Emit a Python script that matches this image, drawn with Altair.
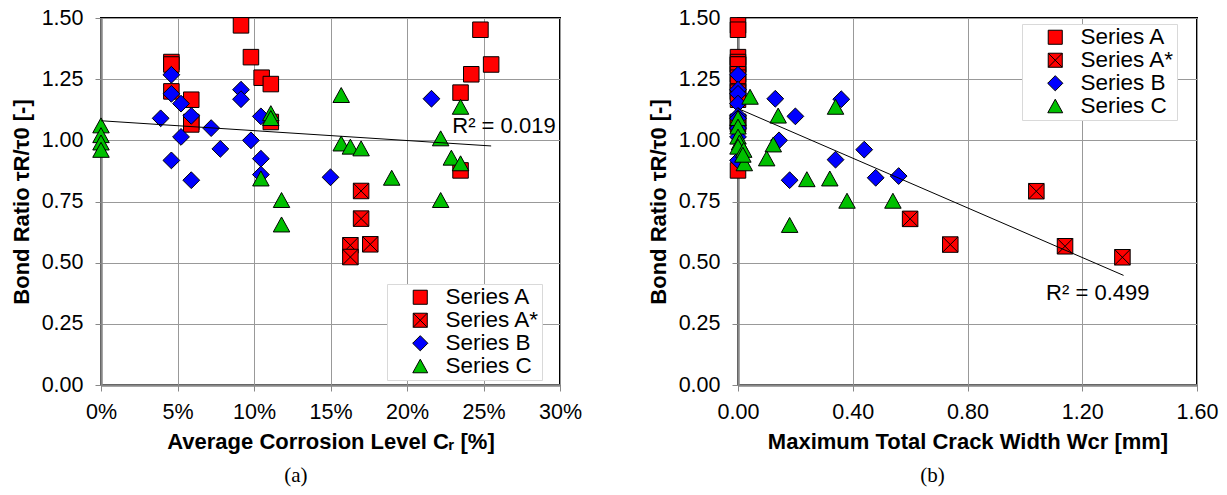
import altair as alt
import pandas as pd

series_names = ["Series A", "Series A*", "Series B", "Series C"]
series_colors = ["#FF0000", "#FF0000", "#0000FF", "#00C000"]

# ---------- Panel (a): average corrosion level [%] ----------
a_A_x = [9.15, 4.6, 4.6, 9.8, 10.5, 11.1, 4.6, 5.9, 5.9, 5.9, 11.1, 24.8, 25.5, 24.2, 23.5, 23.5]
a_A_y = [1.47, 1.32, 1.31, 1.34, 1.256, 1.23, 1.20, 1.166, 1.075, 1.065, 1.075, 1.452, 1.31, 1.27, 1.195, 0.877]
a_As_x = [17.0, 17.0, 16.3, 16.3, 17.6]
a_As_y = [0.793, 0.68, 0.571, 0.523, 0.575]
a_B_x = [4.6, 4.6, 5.23, 3.9, 5.9, 7.2, 5.23, 4.6, 5.9, 7.8, 9.15, 9.15, 9.8, 10.45, 10.45, 10.45, 15.0, 21.6]
a_B_y = [1.268, 1.19, 1.15, 1.09, 1.10, 1.05, 1.014, 0.918, 0.837, 0.965, 1.207, 1.168, 1.0, 1.098, 0.925, 0.86, 0.849, 1.17]
a_C_x = [0, 0, 0, 0, 11.1, 11.1, 15.7, 15.7, 16.3, 17.0, 10.45, 11.8, 11.8, 19.0, 23.5, 22.2, 22.9, 23.5, 22.2]
a_C_y = [1.06, 1.02, 0.99, 0.96, 1.11, 1.09, 1.184, 0.986, 0.973, 0.966, 0.843, 0.755, 0.655, 0.846, 1.136, 1.007, 0.928, 0.905, 0.755]
a_trend_x = [0, 25.5]
a_trend_y = [1.08, 0.977]
a_r2_label = "R² = 0.019"
a_r2_x = [22.96]
a_r2_y = [1.059]
a_ticks = [0, 5, 10, 15, 20, 25, 30]

# ---------- Panel (b): maximum total crack width [mm] ----------
b_A_x = [0] * 16
b_A_y = [1.47, 1.452, 1.34, 1.32, 1.31, 1.31, 1.27, 1.256, 1.23, 1.20, 1.195, 1.166, 1.075, 1.075, 1.065, 0.877]
b_As_x = [1.04, 0.60, 0.74, 1.14, 1.34]
b_As_y = [0.792, 0.679, 0.574, 0.567, 0.522]
b_B_x = [0, 0, 0, 0, 0, 0, 0, 0, 0, 0.13, 0.36, 0.20, 0.143, 0.44, 0.34, 0.48, 0.18, 0.56]
b_B_y = [1.268, 1.207, 1.19, 1.15, 1.10, 1.09, 1.05, 1.014, 0.918, 1.17, 1.168, 1.098, 1.0, 0.962, 0.921, 0.847, 0.837, 0.854]
b_C_x = [0, 0, 0, 0.005, 0, 0.02, 0.022, 0.017, 0.042, 0.14, 0.34, 0.123, 0.10, 0.24, 0.32, 0.38, 0.18, 0.54]
b_C_y = [1.09, 1.055, 1.014, 0.99, 0.973, 0.96, 0.905, 0.94, 1.177, 1.10, 1.136, 0.982, 0.925, 0.84, 0.843, 0.752, 0.653, 0.752]
b_trend_x = [0, 1.344]
b_trend_y = [1.13, 0.448]
b_r2_label = "R² = 0.499"
b_r2_x = [1.074]
b_r2_y = [0.376]
b_ticks = [0, 0.4, 0.8, 1.2, 1.6]

y_ticks = [0, 0.25, 0.5, 0.75, 1.0, 1.25, 1.5]

# marker shapes (unit paths)
sq = "M-0.97,-0.97H0.97V0.97H-0.97Z"
sqx = sq + "M-0.97,-0.97L0.97,0.97M0.97,-0.97L-0.97,0.97"
dia = "M0,-1.05L1.05,0L0,1.05L-1.05,0Z"
tri = "M0,-0.97L1.03,0.9L-1.03,0.9Z"
series_shapes = [sq, sqx, dia, tri]

FONT = "Liberation Sans"
FS = 21.5


def make_df(groups):
    rows = []
    for name, xs, ys in groups:
        for xv, yv in zip(xs, ys):
            rows.append({"series": name, "x": xv, "y": yv})
    return pd.DataFrame(rows)


def panel(df, tx, ty, r2_text, r2x, r2y, xdomain, xticks, xlabel_expr, xtitle,
          legend_x, legend_y, caption):
    legend = alt.Legend(
        title=None, orient="none", legendX=legend_x, legendY=legend_y,
        fillColor="white", strokeColor="#d9d9d9", padding=2, rowPadding=-2,
        symbolOffset=20, labelOffset=14, labelFont=FONT, labelFontSize=22.5,
        labelColor="black", symbolSize=210, symbolStrokeColor="black",
        symbolStrokeWidth=1,
    )
    xenc = alt.X(
        "x:Q",
        scale=alt.Scale(domain=xdomain, nice=False, zero=False),
        axis=alt.Axis(values=xticks, labelExpr=xlabel_expr, title=xtitle),
    )
    yenc = alt.Y(
        "y:Q",
        scale=alt.Scale(domain=[0, 1.5], nice=False),
        axis=alt.Axis(values=y_ticks, format=".2f", title="Bond Ratio τR/τ0 [-]"),
    )
    points = alt.Chart(df).mark_point(
        filled=True, stroke="black", strokeWidth=1, size=256, opacity=1
    ).encode(
        x=xenc,
        y=yenc,
        color=alt.Color("series:N", scale=alt.Scale(domain=series_names, range=series_colors), legend=legend),
        shape=alt.Shape("series:N", scale=alt.Scale(domain=series_names, range=series_shapes), legend=legend),
    )
    trend = alt.Chart(pd.DataFrame({"x": tx, "y": ty})).mark_line(
        color="black", strokeWidth=1
    ).encode(x="x:Q", y="y:Q")
    r2 = alt.Chart(pd.DataFrame({"x": r2x, "y": r2y, "t": [r2_text]})).mark_text(
        align="left", baseline="middle", font=FONT, fontSize=22, color="black"
    ).encode(x="x:Q", y="y:Q", text="t:N")
    return alt.layer(points, trend, r2).properties(
        width=459, height=367,
        title=alt.TitleParams(
            caption, orient="bottom", anchor="middle", frame="bounds",
            font="Liberation Serif", fontSize=21, fontWeight="normal",
            color="black", offset=12,
        ),
    )


df_a = make_df([
    ("Series A", a_A_x, a_A_y),
    ("Series A*", a_As_x, a_As_y),
    ("Series B", a_B_x, a_B_y),
    ("Series C", a_C_x, a_C_y),
])
df_b = make_df([
    ("Series A", b_A_x, b_A_y),
    ("Series A*", b_As_x, b_As_y),
    ("Series B", b_B_x, b_B_y),
    ("Series C", b_C_x, b_C_y),
])

left = panel(df_a, a_trend_x, a_trend_y, a_r2_label, a_r2_x, a_r2_y,
             [0, 30], a_ticks, "datum.value + '%'", "Average Corrosion Level Cᵣ [%]",
             286, 266, "(a)")
right = panel(df_b, b_trend_x, b_trend_y, b_r2_label, b_r2_x, b_r2_y,
              [0, 1.6], b_ticks, "format(datum.value, '.2f')", "Maximum Total Crack Width Wcr [mm]",
              284, 6, "(b)")

chart = alt.hconcat(left, right, spacing=63).resolve_scale(
    color="independent", shape="independent"
).properties(
    padding={"left": 9, "top": 6, "right": 0, "bottom": 0}
).configure_view(
    stroke="black", strokeWidth=2
).configure_axis(
    labelFont=FONT, labelFontSize=FS, labelColor="black",
    titleFont=FONT, titleFontSize=22, titleFontWeight="bold", titleColor="black",
    gridColor="#999999", gridWidth=1, gridOpacity=1,
    domainColor="#888888", domainWidth=2.5,
    tickColor="#888888", tickWidth=1, tickSize=6,
).configure_axisY(
    labelPadding=12, titlePadding=8,
).configure_axisX(
    labelPadding=10, titlePadding=9, labelFlush=False,
)

chart.save("out.html", embed_options={"renderer": "svg", "actions": False})
